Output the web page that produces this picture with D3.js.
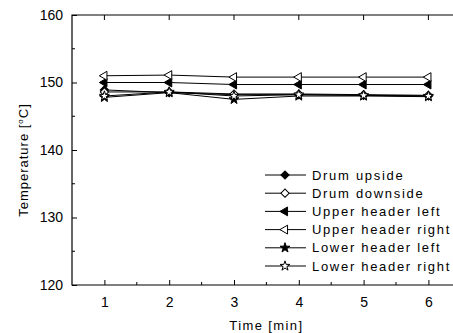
<!DOCTYPE html>
<html>
<head>
<meta charset="utf-8">
<script src="https://cdn.jsdelivr.net/npm/d3@7"></script>
<style>
    body { margin: 0; background: #fff; }
    text { font-family: Arial, "Liberation Sans", sans-serif; fill: #000; }
</style>
</head>
<body>
<div class="chart"></div>
<script>
// Data
let times = [1, 2, 3, 4, 5, 6]

let drumUpside = [148.9, 148.5, 148.2, 148.2, 148.1, 148.0]
let drumDownside = [148.6, 148.6, 148.3, 148.3, 148.2, 148.1]
let upperLeft = [150.0, 150.0, 149.7, 149.7, 149.7, 149.7]
let upperRight = [151.0, 151.1, 150.8, 150.8, 150.8, 150.8]
let lowerLeft = [147.8, 148.5, 147.5, 148.0, 148.0, 147.9]
let lowerRight = [148.0, 148.6, 148.0, 148.2, 148.1, 148.0]

let seriesNames = ["Drum upside", "Drum downside", "Upper header left",
    "Upper header right", "Lower header left", "Lower header right"]

let yTicks = [120, 130, 140, 150, 160]

let series = [
    { name: seriesNames[0], values: drumUpside, shape: "diamond", filled: true },
    { name: seriesNames[1], values: drumDownside, shape: "diamond", filled: false },
    { name: seriesNames[2], values: upperLeft, shape: "triangle", filled: true },
    { name: seriesNames[3], values: upperRight, shape: "triangle", filled: false },
    { name: seriesNames[4], values: lowerLeft, shape: "star", filled: true },
    { name: seriesNames[5], values: lowerRight, shape: "star", filled: false }
]

const W = 453, H = 333
const margin = { top: 15, left: 72, bottom: 48 }

const svg = d3.select('.chart')
    .append('svg')
    .attr('width', W)
    .attr('height', H)

const xScale = d3.scaleLinear()
    .domain([0.5, 6.5])
    .range([margin.left, margin.left + 6 * 64.8])

const yScale = d3.scaleLinear()
    .domain([120, 160])
    .range([H - margin.bottom, margin.top])

const x0 = margin.left, x1 = xScale(6.5)
const y0 = yScale(120), y1 = yScale(160)

// frame (right side falls outside the picture)
svg.append('path')
    .attr('d', `M${x1},${y1}H${x0}V${y0}H${x1}`)
    .attr('fill', 'none')
    .attr('stroke', '#000')
    .attr('stroke-width', 1.2)

// Axes with inward ticks
const xAxis = d3.axisBottom(xScale)
    .tickValues(times)
    .tickFormat(d3.format('d'))
    .tickSizeInner(-5)
    .tickSizeOuter(0)
    .tickPadding(12)

const xAxisDraw = svg.append('g')
    .attr('transform', `translate(0, ${y0})`)
    .call(xAxis)

xAxisDraw.select('.domain').remove()
xAxisDraw.selectAll('text').style('font-size', '14px')

// minor x ticks
svg.append('g').selectAll('line')
    .data([1.5, 2.5, 3.5, 4.5, 5.5])
    .join('line')
    .attr('x1', d => xScale(d)).attr('x2', d => xScale(d))
    .attr('y1', y0).attr('y2', y0 - 3)
    .attr('stroke', '#000')

// top ticks
svg.append('g').selectAll('line')
    .data(times)
    .join('line')
    .attr('x1', d => xScale(d)).attr('x2', d => xScale(d))
    .attr('y1', y1).attr('y2', y1 + 5)
    .attr('stroke', '#000')

const yAxis = d3.axisLeft(yScale)
    .tickValues(yTicks)
    .tickSizeInner(-5)
    .tickSizeOuter(0)
    .tickPadding(9)

const yAxisDraw = svg.append('g')
    .attr('transform', `translate(${x0}, 0)`)
    .call(yAxis)

yAxisDraw.select('.domain').remove()
yAxisDraw.selectAll('text').style('font-size', '14px')

svg.append('g').selectAll('line')
    .data([125, 135, 145, 155])
    .join('line')
    .attr('x1', x0).attr('x2', x0 + 3)
    .attr('y1', d => yScale(d)).attr('y2', d => yScale(d))
    .attr('stroke', '#000')

// Axis titles
svg.append('text')
    .attr('x', (x0 + x1) / 2)
    .attr('y', 330)
    .attr('text-anchor', 'middle')
    .style('font-size', '13px')
    .style('letter-spacing', '1.4px')
    .text('Time [min]')

const yTitle = svg.append('text')
    .attr('transform', `translate(28, ${(y0 + y1) / 2 + 10}) rotate(-90)`)
    .attr('text-anchor', 'middle')
    .style('font-size', '13px')
    .style('letter-spacing', '1px')

yTitle.append('tspan').text('Temperature [')
yTitle.append('tspan').text('o').attr('dy', -5).style('font-size', '8px')
yTitle.append('tspan').text('C]').attr('dy', 5)

// Markers
function markerPath(shape) {
    if (shape == 'diamond') return d3.symbol(d3.symbolSquare, 34)()
    if (shape == 'star') return d3.symbol(d3.symbolStar, 30)()
    return d3.symbol(d3.symbolTriangle, 34)()
}

function markerTransform(shape, x, y) {
    if (shape == 'triangle') return `translate(${x}, ${y}) rotate(-90)`
    if (shape == 'diamond') return `translate(${x}, ${y}) rotate(45)`
    return `translate(${x}, ${y})`
}

const line = d3.line()
    .x((d, i) => xScale(times[i]))
    .y(d => yScale(d))

const plot = svg.append('g')

series.forEach(s => {
    plot.append('path')
        .attr('d', line(s.values))
        .attr('fill', 'none')
        .attr('stroke', '#000')
        .attr('stroke-width', 1)
})

series.forEach(s => {
    plot.append('g').selectAll('path')
        .data(s.values)
        .join('path')
        .attr('d', markerPath(s.shape))
        .attr('transform', (d, i) => markerTransform(s.shape, xScale(times[i]), yScale(d)))
        .attr('fill', s.filled ? '#000' : '#fff')
        .attr('stroke', '#000')
        .attr('stroke-width', 1)
})

// Legend
const legend = svg.append('g')
    .attr('transform', 'translate(265, 175)')

series.forEach((s, i) => {
    const row = legend.append('g')
        .attr('transform', `translate(0, ${i * 18.2})`)

    row.append('line')
        .attr('x1', 0).attr('x2', 41)
        .attr('stroke', '#000')

    row.append('path')
        .attr('d', markerPath(s.shape))
        .attr('transform', markerTransform(s.shape, 20, 0))
        .attr('fill', s.filled ? '#000' : '#fff')
        .attr('stroke', '#000')

    row.append('text')
        .attr('x', 47)
        .attr('y', 4.5)
        .style('font-size', '13px')
        .style('letter-spacing', '1.7px')
        .text(s.name)
})
</script>
</body>
</html>
